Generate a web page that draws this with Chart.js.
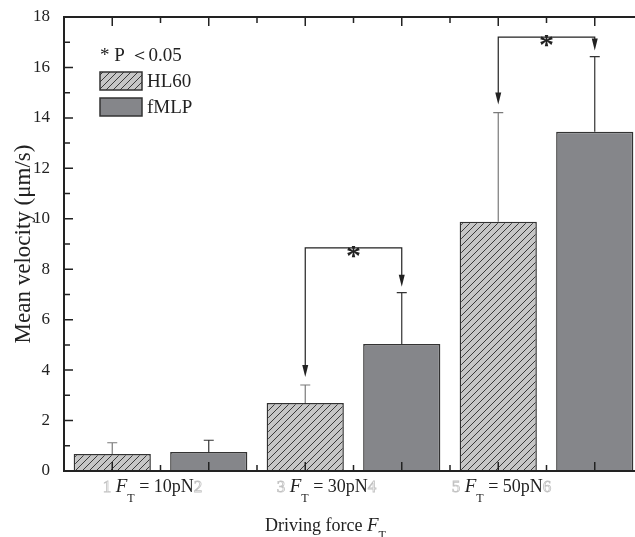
<!DOCTYPE html>
<html>
<head>
<meta charset="utf-8">
<script src="https://cdn.jsdelivr.net/npm/chart.js@4"></script>
<style>
  html, body { margin: 0; padding: 0; overflow: hidden; background: #fff; }
  #wrap { width: 645px; height: 537px; }
</style>
</head>
<body>
<div id="wrap"><canvas id="cv" width="645" height="537"></canvas></div>
<script>
// werte
const hl60X = [1, 3, 5];
const fmlpX = [2, 4, 6];
const hl60Mean = [0.67, 2.70, 9.88];
const hl60Err = [0.45, 0.71, 4.33];
const fmlpMean = [0.75, 5.04, 13.45];
const fmlpErr = [0.47, 2.03, 2.98];
const forceLabels = ["10pN", "30pN", "50pN"];
const sigPairs = [[3, 4], [5, 6]];
const sigBracketY = [8.85, 17.2];
const xTicks = [1, 2, 3, 4, 5, 6];
const yTicks = [0, 2, 4, 6, 8, 10, 12, 14, 16, 18];

const serif = "'Liberation Serif', 'Times New Roman', serif";
const ink = "#222";

// schraffur fuer HL60
function makeHatch() {
    let p = document.createElement("canvas");
    p.width = 7; p.height = 7;
    let c = p.getContext("2d");
    c.fillStyle = "#c6c6c6";
    c.fillRect(0, 0, 7, 7);
    c.strokeStyle = "#3a3a3a";
    c.lineWidth = 1;
    c.beginPath();
    c.moveTo(-1, 8); c.lineTo(8, -1);
    c.moveTo(-1, 1); c.lineTo(1, -1);
    c.moveTo(6, 8); c.lineTo(8, 6);
    c.stroke();
    return c.createPattern(p, "repeat");
}
const hatch = makeHatch();
const grey = "#85868a";

// text aus teilen zusammensetzen (kursiv, tiefgestellt, hohl)
function drawParts(ctx, parts, cx, y) {
    let w = 0;
    parts.forEach((p) => { ctx.font = p.font; w += ctx.measureText(p.t).width; });
    let x = cx - w / 2;
    ctx.textAlign = "left";
    ctx.textBaseline = "alphabetic";
    parts.forEach((p) => {
        ctx.font = p.font;
        if (p.hollow) {
            ctx.strokeStyle = "#c2c2c2";
            ctx.lineWidth = 0.8;
            ctx.strokeText(p.t, x, y + (p.dy || 0));
        } else {
            ctx.fillStyle = ink;
            ctx.fillText(p.t, x, y + (p.dy || 0));
        }
        x += ctx.measureText(p.t).width;
    });
}

const extras = {
    id: "extras",
    afterDatasetsDraw(chart) {
        const ctx = chart.ctx;
        const xs = chart.scales.x, ys = chart.scales.y;
        const a = chart.chartArea;
        ctx.save();

        // fehlerbalken
        const err = (xv, m, e, col) => {
            let x = xs.getPixelForValue(xv);
            let y0 = ys.getPixelForValue(m), y1 = ys.getPixelForValue(m + e);
            ctx.strokeStyle = col;
            ctx.lineWidth = 1.2;
            ctx.beginPath();
            ctx.moveTo(x, y0); ctx.lineTo(x, y1);
            ctx.moveTo(x - 5, y1); ctx.lineTo(x + 5, y1);
            ctx.stroke();
        };
        hl60X.forEach((xv, i) => err(xv, hl60Mean[i], hl60Err[i], "#7a7a7a"));
        fmlpX.forEach((xv, i) => err(xv, fmlpMean[i], fmlpErr[i], "#333"));

        // achsen
        ctx.strokeStyle = ink;
        ctx.lineWidth = 2;
        ctx.beginPath();
        ctx.moveTo(a.left, a.top); ctx.lineTo(a.left, a.bottom + 1);
        ctx.moveTo(a.left - 1, a.bottom); ctx.lineTo(a.right, a.bottom);
        ctx.moveTo(a.left - 1, a.top); ctx.lineTo(a.right, a.top);
        ctx.moveTo(a.right, a.top); ctx.lineTo(a.right, a.bottom);
        ctx.stroke();

        // ticks nach innen
        ctx.lineWidth = 1.5;
        ctx.beginPath();
        for (let v = 1; v < 18; v++) {
            let y = ys.getPixelForValue(v);
            let len = v % 2 === 0 ? 9 : 6;
            ctx.moveTo(a.left, y); ctx.lineTo(a.left + len, y);
        }
        for (let v = 1; v <= 6.01; v += 0.5) {
            let x = xs.getPixelForValue(v);
            let len = Number.isInteger(v) ? 9 : 6;
            ctx.moveTo(x, a.bottom); ctx.lineTo(x, a.bottom - len);
            ctx.moveTo(x, a.top); ctx.lineTo(x, a.top + len);
        }
        ctx.stroke();

        // signifikanz klammern
        const tops = {};
        hl60X.forEach((xv, i) => tops[xv] = hl60Mean[i] + hl60Err[i]);
        fmlpX.forEach((xv, i) => tops[xv] = fmlpMean[i] + fmlpErr[i]);
        sigPairs.forEach((pair, i) => {
            let xa = xs.getPixelForValue(pair[0]), xb = xs.getPixelForValue(pair[1]);
            let yb = ys.getPixelForValue(sigBracketY[i]);
            let ta = ys.getPixelForValue(tops[pair[0]]) - 8;
            let tb = ys.getPixelForValue(tops[pair[1]]) - 6;
            ctx.strokeStyle = ink;
            ctx.lineWidth = 1.2;
            ctx.beginPath();
            ctx.moveTo(xa, ta - 10); ctx.lineTo(xa, yb);
            ctx.lineTo(xb, yb); ctx.lineTo(xb, tb - 10);
            ctx.stroke();
            ctx.fillStyle = ink;
            [[xa, ta], [xb, tb]].forEach(([x, t]) => {
                ctx.beginPath();
                ctx.moveTo(x - 3, t - 12); ctx.lineTo(x + 3, t - 12); ctx.lineTo(x, t);
                ctx.closePath(); ctx.fill();
            });
            ctx.font = "bold 30px " + serif;
            ctx.textAlign = "center";
            ctx.textBaseline = "alphabetic";
            ctx.fillText("*", (xa + xb) / 2, yb + 17);
        });

        // legende
        ctx.font = "19px " + serif;
        ctx.textAlign = "left";
        ctx.textBaseline = "alphabetic";
        ctx.fillStyle = ink;
        ctx.fillText("* P ＜0.05", 100, 61);
        ctx.fillStyle = hatch;
        ctx.fillRect(100, 72, 42, 18);
        ctx.fillStyle = grey;
        ctx.fillRect(100, 98, 42, 18);
        ctx.strokeStyle = "#333";
        ctx.lineWidth = 1.5;
        ctx.strokeRect(100, 72, 42, 18);
        ctx.strokeRect(100, 98, 42, 18);
        ctx.fillStyle = ink;
        ctx.textBaseline = "middle";
        ctx.fillText("HL60", 147, 82);
        ctx.fillText("fMLP", 147, 108);

        // x beschriftung
        const shift = [-8, -27, -45];
        const f = "18px " + serif, fi = "italic 19px " + serif, fs = "12px " + serif;
        forceLabels.forEach((lab, i) => {
            let cx = xs.getPixelForValue(hl60X[i] + 0.5) + shift[i];
            drawParts(ctx, [
                {t: String(hl60X[i]), font: "17px " + serif, hollow: true},
                {t: " ", font: f},
                {t: "F", font: fi},
                {t: "T", font: fs, dy: 10},
                {t: " = " + lab, font: f},
                {t: String(fmlpX[i]), font: "17px " + serif, hollow: true}
            ], cx, 492);
        });
        drawParts(ctx, [
            {t: "Driving force ", font: f},
            {t: "F", font: fi},
            {t: "T", font: fs, dy: 8}
        ], (a.left + a.right) / 2 - 28, 531);

        ctx.restore();
    }
};

const barStyle = {grouped: false, barPercentage: 0.8, categoryPercentage: 1, borderColor: "#333", borderWidth: 1.5};

new Chart(document.getElementById("cv").getContext("2d"), {
    type: "bar",
    data: {
        datasets: [{
            label: "HL60",
            data: hl60X.map((x, i) => ({x: x, y: hl60Mean[i]})),
            backgroundColor: hatch,
            ...barStyle
        }, {
            label: "fMLP",
            data: fmlpX.map((x, i) => ({x: x, y: fmlpMean[i]})),
            backgroundColor: grey,
            ...barStyle
        }]
    },
    options: {
        responsive: false,
        animation: false,
        devicePixelRatio: 1,
        layout: {padding: {top: 17, right: 2, bottom: 0, left: 0}},
        plugins: {legend: {display: false}, tooltip: {enabled: false}},
        scales: {
            x: {
                type: "linear",
                offset: false,
                min: 0.5,
                max: 6.5,
                afterBuildTicks: (s) => { s.ticks = xTicks.map((v) => ({value: v})); },
                grid: {display: false},
                border: {display: false},
                ticks: {display: false},
                afterFit: (s) => { s.height = 66; }
            },
            y: {
                min: 0,
                max: 18,
                afterBuildTicks: (s) => { s.ticks = yTicks.map((v) => ({value: v})); },
                grid: {display: false},
                border: {display: false},
                ticks: {font: {family: serif, size: 17}, color: ink, padding: 6},
                title: {
                    display: true,
                    text: "Mean velocity (μm/s)",
                    font: {family: serif, size: 23},
                    color: ink,
                    padding: {top: 10, bottom: 0}
                },
                afterFit: (s) => { s.width = 64; }
            }
        }
    },
    plugins: [extras]
});
</script>
</body>
</html>
